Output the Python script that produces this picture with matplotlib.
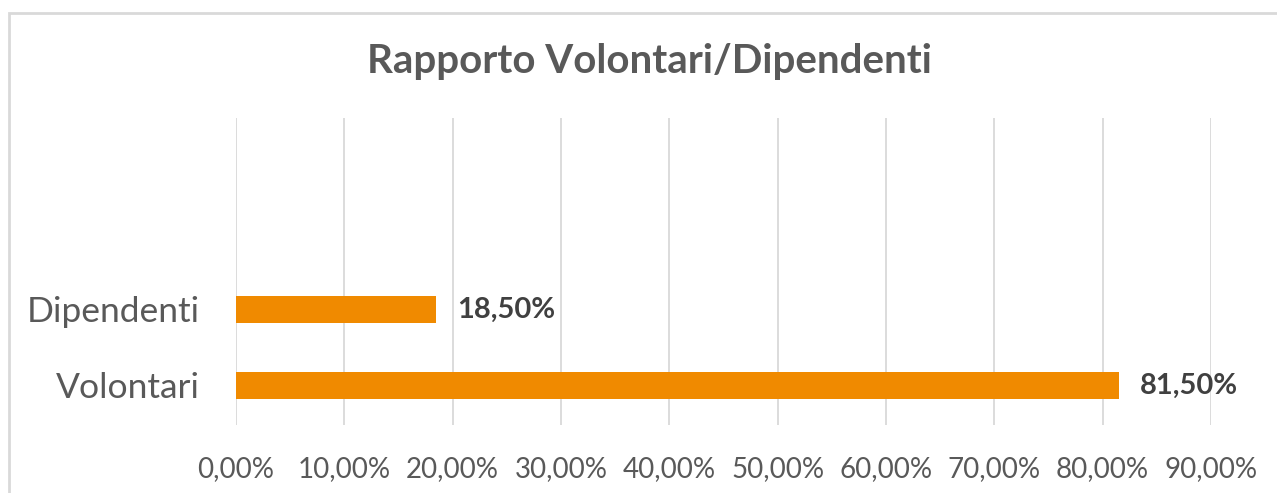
import matplotlib.pyplot as plt
from matplotlib.patches import Rectangle
from matplotlib.ticker import FuncFormatter

plt.rcParams['font.family'] = ['Lato', 'DejaVu Sans']

categories = ['Volontari', 'Dipendenti']
values = [81.5, 18.5]
ticks = [0, 10, 20, 30, 40, 50, 60, 70, 80, 90]

W, H = 1277, 493
fig = plt.figure(figsize=(W / 100, H / 100), dpi=100)
ax = fig.add_axes([236 / W, 1 - 425 / H, (1211 - 236) / W, (425 - 118) / H])

# chart border
fig.patches.append(Rectangle((9 / W, -0.1), 1.2, 1 - 13 / H + 0.1, transform=fig.transFigure,
                             fill=False, edgecolor='#D9D9D9', linewidth=2))

pos = list(range(len(categories)))
bars = ax.barh(pos, values, height=0.36, color='#F08A00')

for b, v in zip(bars, values):
    ax.text(v + 1.9, b.get_y() + b.get_height() / 2, '{:.2f}%'.format(v).replace('.', ','),
            va='center', ha='left', fontsize=21, fontweight='bold', color='#404040')

ax.set_xlim(0, 90)
ax.set_ylim(-0.52, 3.52)
ax.set_xticks(ticks)
ax.xaxis.set_major_formatter(FuncFormatter(lambda x, p: '{:.2f}%'.format(x).replace('.', ',')))
ax.set_yticks(pos)
ax.set_yticklabels(categories)
ax.tick_params(axis='x', length=0, pad=22, labelsize=20, labelcolor='#595959')
ax.tick_params(axis='y', length=0, pad=26, labelsize=25.5, labelcolor='#595959')
ax.grid(axis='x', color='#D9D9D9', linewidth=1.3)
ax.set_axisbelow(True)
for s in ax.spines.values():
    s.set_visible(False)

fig.text(649 / W, 1 - 62 / H, 'Rapporto Volontari/Dipendenti', ha='center', va='center',
         fontsize=29, fontweight='bold', color='#595959')

fig.savefig('out.png', dpi=100)
